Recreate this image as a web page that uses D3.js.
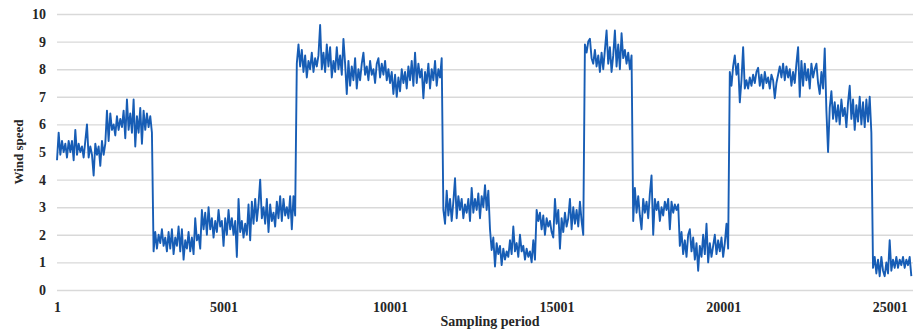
<!DOCTYPE html>
<html>
<head>
<meta charset="utf-8">
<script src="https://cdn.jsdelivr.net/npm/d3@7"></script>
<style>
  body { margin: 0; background: #fff; }
  text { font-family: "Liberation Serif", "Times New Roman", serif; font-weight: bold; fill: #262626; }
</style>
</head>
<body>
<svg id="chart" width="914" height="332"></svg>
<script>
// sampled every SAMPLE_STEP points, starting at sample 1
const FIRST_SAMPLE = 1;
const SAMPLE_STEP = 50;
const LAST_SAMPLE = 25701;

const windSpeed = [
  4.7,5.7,4.9,5.4,5.0,5.3,4.8,5.4,5.0,5.4,4.7,5.8,4.9,5.3,5.0,5.2,4.8,5.4,6.0,4.8,
  5.2,4.9,4.15,5.3,4.9,5.2,4.5,5.4,4.9,5.3,6.5,5.4,6.4,5.8,6.0,5.6,6.3,5.8,6.2,5.9,
  6.5,5.5,6.9,5.8,6.4,5.7,6.9,5.2,6.3,5.7,6.6,5.3,6.5,5.8,6.4,5.9,6.3,5.7,
  1.4,2.1,1.5,2.0,1.7,2.2,1.6,1.9,1.4,2.1,1.5,2.2,1.3,1.9,1.6,2.3,1.4,2.2,1.1,1.8,
  1.5,2.1,1.4,1.9,1.3,2.6,1.8,2.0,1.5,2.9,2.2,2.8,2.0,3.0,2.2,2.6,1.9,2.5,2.1,2.9,
  2.3,2.5,1.6,2.6,2.0,2.9,2.2,2.6,2.0,2.5,1.2,3.3,2.1,2.5,1.9,2.4,2.0,3.1,1.8,3.2,
  2.4,3.3,2.5,3.1,4.0,2.6,3.0,2.4,3.3,2.1,3.1,2.5,2.8,2.3,3.2,2.6,3.4,2.5,3.3,2.7,3.0,2.6,3.4,2.2,3.4,2.7,
  8.2,8.9,8.1,8.7,7.9,8.5,7.7,8.3,8.0,8.6,7.9,8.4,8.1,8.5,9.6,8.0,8.6,7.9,8.9,8.1,
  8.8,7.7,8.3,7.9,8.8,8.0,8.5,7.8,9.1,8.2,7.1,8.3,7.4,8.1,7.6,8.4,7.3,8.0,7.6,8.2,
  8.6,7.8,8.1,7.6,8.3,7.8,8.0,7.5,8.2,8.4,7.7,8.2,7.8,8.3,7.6,8.0,7.5,7.9,7.1,7.8,
  7.0,7.7,7.2,8.0,7.5,7.9,7.3,8.1,7.6,8.3,7.4,8.6,7.5,8.2,7.7,8.0,6.95,7.9,7.5,8.2,7.3,8.0,7.6,8.3,7.4,8.0,7.7,8.4,
  2.9,2.4,3.6,2.7,3.3,2.5,3.2,4.05,2.6,3.4,2.9,3.3,2.6,3.1,2.8,3.3,2.5,3.7,2.8,3.3,
  2.9,3.5,2.6,3.4,3.0,3.8,2.9,3.6,2.2,1.45,1.9,0.85,1.7,1.3,1.6,0.9,1.5,1.1,1.4,1.2,
  1.8,1.3,2.3,1.4,1.7,1.2,2.0,1.4,1.6,1.1,1.5,1.2,1.4,1.0,1.8,1.1,2.9,2.5,2.8,2.2,
  2.7,2.0,2.6,2.3,2.5,2.1,1.9,3.3,2.4,2.9,1.5,2.6,2.1,2.8,2.3,2.6,3.3,2.2,3.0,2.4,2.9,2.3,3.2,2.5,2.0,
  8.9,8.6,9.0,9.1,8.4,8.2,8.7,8.1,8.5,7.9,8.6,8.0,8.7,9.4,8.2,8.8,7.9,8.5,9.4,8.1,8.9,8.0,9.3,8.4,8.7,8.2,8.6,8.0,8.5,
  2.5,3.7,2.8,3.4,2.7,2.2,3.3,2.8,3.2,2.6,3.5,4.15,2.0,3.3,2.9,3.2,2.5,3.0,2.7,3.2,2.9,3.3,2.2,3.2,2.8,3.1,2.9,3.1,
  1.6,2.1,1.3,1.8,1.2,2.0,2.2,1.4,1.9,1.1,1.7,0.7,1.6,1.2,2.0,1.3,2.4,1.0,1.7,1.2,1.6,2.0,1.3,1.8,1.4,1.9,1.2,1.7,2.4,1.5,
  7.9,7.4,8.1,8.5,7.8,8.2,6.8,7.6,8.8,7.3,7.6,7.3,7.7,7.4,7.8,7.5,7.9,8.05,7.4,7.8,7.3,7.9,7.5,7.7,7.3,7.8,7.6,
  6.95,7.5,7.8,8.1,7.7,8.2,7.6,8.1,7.7,8.0,7.4,7.9,7.5,8.2,8.8,7.0,8.3,7.4,8.2,7.6,8.0,7.3,8.2,7.7,8.0,8.2,7.5,7.1,7.9,7.3,8.75,
  6.5,5.0,6.6,7.2,6.2,6.8,6.1,6.7,6.0,6.9,6.3,6.6,5.9,6.8,7.4,6.2,6.9,5.8,6.7,6.1,7.0,6.0,6.8,5.9,6.9,6.1,7.0,5.7,
  0.8,1.2,0.6,1.1,0.5,1.2,0.7,0.5,1.0,0.6,1.8,0.7,1.1,0.8,1.2,0.8,1.1,0.9,1.2,0.8,1.1,0.9,1.2,0.5
];

const xTicks = [1, 5001, 10001, 15001, 20001, 25001];
const yTicks = [0, 1, 2, 3, 4, 5, 6, 7, 8, 9, 10];
const xTitle = 'Sampling period';
const yTitle = 'Wind speed';

const svg = d3.select('#chart');
const margin = {top: 14, right: 1, bottom: 42, left: 57};
const width = 914 - margin.left - margin.right;
const height = 332 - margin.top - margin.bottom;

const x = d3.scaleLinear().domain([FIRST_SAMPLE, LAST_SAMPLE]).range([0, width]);
const y = d3.scaleLinear().domain([0, 10]).range([height, 0]);

const g = svg.append('g').attr('transform', `translate(${margin.left},${margin.top})`);

// gridlines + y labels
const yAxis = g.append('g')
  .call(d3.axisLeft(y).tickValues(yTicks).tickSize(-width).tickPadding(11).tickFormat(d3.format('d')));
yAxis.select('.domain').remove();
yAxis.selectAll('line').attr('stroke', '#d9d9d9').attr('stroke-width', 1.4);
yAxis.selectAll('text').style('font-size', '14px').attr('fill', '#262626');

const xAxis = g.append('g')
  .attr('transform', `translate(0,${height})`)
  .call(d3.axisBottom(x).tickValues(xTicks).tickSize(0).tickPadding(12).tickFormat(d3.format('d')));
xAxis.select('.domain').remove();
xAxis.selectAll('text').style('font-size', '14px').attr('fill', '#262626');

const line = d3.line()
  .x((d, i) => x(FIRST_SAMPLE + i * SAMPLE_STEP))
  .y(d => y(d));

g.append('path')
  .datum(windSpeed)
  .attr('fill', 'none')
  .attr('stroke', '#175db5')
  .attr('stroke-width', 1.9)
  .attr('stroke-linejoin', 'round')
  .attr('d', line);

svg.append('text')
  .attr('x', 490).attr('y', 326)
  .attr('text-anchor', 'middle')
  .style('font-size', '14px')
  .text(xTitle);

svg.append('text')
  .attr('transform', 'translate(23,152) rotate(-90)')
  .attr('text-anchor', 'middle')
  .style('font-size', '13px')
  .text(yTitle);
</script>
</body>
</html>
